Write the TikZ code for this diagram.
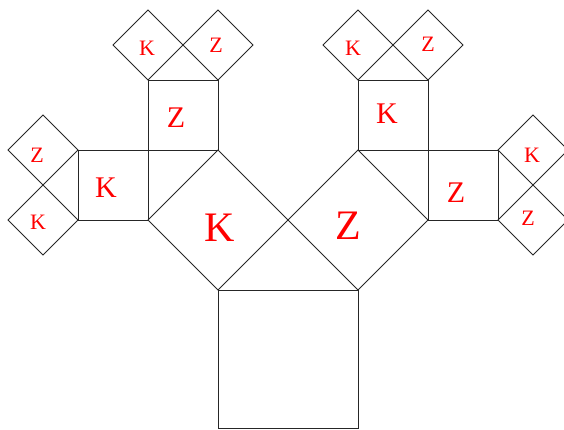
\documentclass[tikz,border=0pt]{standalone}
\usepackage{fontspec}
\setmainfont{Liberation Serif}
\begin{document}
\begin{tikzpicture}[x=1pt,y=-1pt,
  sq/.style={draw=black!85,line width=0.8pt,line join=miter},
  big/.style={text=red,font=\fontsize{42}{42}\selectfont,inner sep=0pt},
  mid/.style={text=red,font=\fontsize{30}{30}\selectfont,inner sep=0pt},
  sml/.style={text=red,font=\fontsize{22}{22}\selectfont,inner sep=0pt}]
\useasboundingbox (0,0) rectangle (564,430);
% base square
\draw[sq] (218,290) -- (358,290) -- (358,428.8) -- (218,428.8) -- cycle;
% level 1
\draw[sq] (218,290) -- (288,220) -- (218,150) -- (148,220) -- cycle;
\draw[sq] (288,220) -- (358,290) -- (428,220) -- (358,150) -- cycle;
% level 2
\draw[sq] (78,150) rectangle (148,220);
\draw[sq] (148,80) rectangle (218,150);
\draw[sq] (358,80) rectangle (428,150);
\draw[sq] (428,150) rectangle (498,220);
% level 3
\draw[sq] (148,80) -- (183,45) -- (148,10) -- (113,45) -- cycle;
\draw[sq] (183,45) -- (218,10) -- (253,45) -- (218,80) -- cycle;
\draw[sq] (78,150) -- (43,185) -- (8,150) -- (43,115) -- cycle;
\draw[sq] (43,185) -- (8,220) -- (43,255) -- (78,220) -- cycle;
\draw[sq] (358,80) -- (393,45) -- (358,10) -- (323,45) -- cycle;
\draw[sq] (393,45) -- (428,10) -- (463,45) -- (428,80) -- cycle;
\draw[sq] (498,150) -- (533,115) -- (568,150) -- (533,185) -- cycle;
\draw[sq] (533,185) -- (568,220) -- (533,255) -- (498,220) -- cycle;
% labels
\node[big] (k1) at (220,228) {K};
\node[big] (z1) at (348,226) {Z};
\node[mid] (k2) at (106,188) {K};
\node[mid] (z2) at (176,118) {Z};
\node[mid] (k3) at (387,114) {K};
\node[mid] (z3) at (456,193) {Z};
\node[sml] (k4) at (147,48) {K};
\node[sml] (z4) at (216,45) {Z};
\node[sml] (z5) at (37,155) {Z};
\node[sml] (k5) at (38,222) {K};
\node[sml] (k6) at (353,48) {K};
\node[sml] (z6) at (428,44) {Z};
\node[sml] (k7) at (532,155) {K};
\node[sml] (z7) at (528,218) {Z};
\end{tikzpicture}
\end{document}
